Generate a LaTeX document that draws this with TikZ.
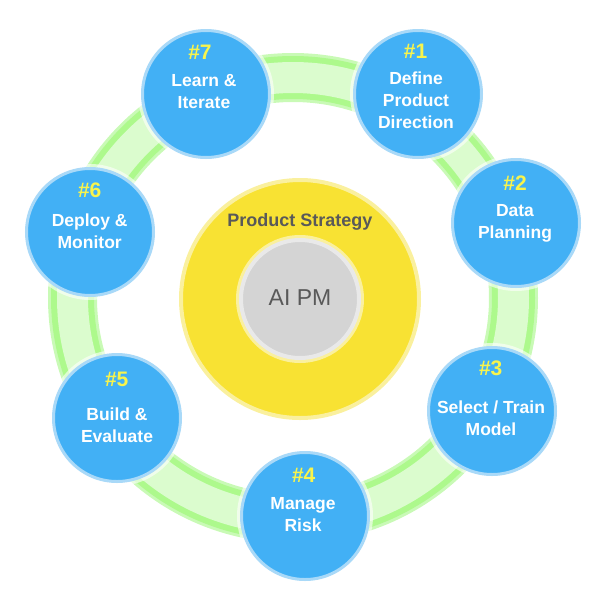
\documentclass[tikz,border=0pt]{standalone}
\usepackage{fontspec}
\setmainfont{Liberation Sans}
\usepackage{tikz}
\usetikzlibrary{positioning}
\definecolor{stepblue}{HTML}{42B0F5}
\definecolor{stepedge}{HTML}{A9D9F8}
\definecolor{numyellow}{HTML}{F8F44C}
\definecolor{ringlight}{HTML}{C9FAB6}
\definecolor{ringbright}{HTML}{ADF98C}
\definecolor{ringpale}{HTML}{DBFCCE}
\definecolor{stratyellow}{HTML}{F8E233}
\definecolor{stratedge}{HTML}{FAF09E}
\definecolor{coregray}{HTML}{D4D4D4}
\definecolor{coreedge}{HTML}{E9E9E9}
\definecolor{labelgray}{HTML}{595959}
\tikzset{
  stepcircle/.style={circle,fill=stepblue,draw=stepedge,line width=3pt,minimum size=127pt,inner sep=0pt,
    preaction={draw=white,opacity=.6,line width=9pt}},
  stepnum/.style={text=numyellow,font=\fontsize{21}{24}\selectfont\bfseries,inner sep=0pt},
  steptext/.style={text=white,font=\fontsize{17.5}{22}\selectfont\bfseries,align=center,inner sep=0pt},
}

\begin{document}
\begin{tikzpicture}[x=1pt,y=-1pt]
            \useasboundingbox (0,0) rectangle (600,600);
            \coordinate (ringc) at (293,298);
            \draw[ringlight,line width=49pt] (ringc) circle (220.5pt);
            \draw[ringbright,line width=43pt] (ringc) circle (220.5pt);
            \draw[ringpale,line width=31pt] (ringc) circle (220.5pt);
            \node[circle,fill=stratyellow,draw=stratedge,line width=4pt,minimum size=238pt] (strategy) at (300,299) {};
            \node[circle,fill=coregray,draw=coreedge,line width=4pt,minimum size=118pt,
              preaction={draw=stratedge,line width=10pt}] (core) at (300,299) {};
            \node[font=\fontsize{18}{20}\selectfont\bfseries,text=labelgray] (strattext) at (300,222) {Product Strategy};
            \node[font=\fontsize{23}{26}\selectfont,text=labelgray] (coretext) at (300,298) {AI PM};
            \node[stepcircle] (step1) at (418,94) {};
            \node[stepnum] (num1) at (415.5,51) {\#1};
            \node[steptext] (label1) at (416,100) {Define\\Product\\Direction};
            \node[stepcircle] (step2) at (516,223) {};
            \node[stepnum] (num2) at (515,183) {\#2};
            \node[steptext] (label2) at (515,223) {Data\\Planning};
            \node[stepcircle] (step3) at (492,411) {};
            \node[stepnum] (num3) at (490.7,368) {\#3};
            \node[steptext] (label3) at (491,418) {Select / Train\\Model};
            \node[stepcircle] (step4) at (305,516) {};
            \node[stepnum] (num4) at (303.7,475) {\#4};
            \node[steptext] (label4) at (303,515) {Manage\\Risk};
            \node[stepcircle] (step5) at (117,418) {};
            \node[stepnum] (num5) at (116.7,379) {\#5};
            \node[steptext] (label5) at (117,425.5) {Build \&\\Evaluate};
            \node[stepcircle] (step6) at (90,232) {};
            \node[stepnum] (num6) at (89.7,190) {\#6};
            \node[steptext] (label6) at (89.7,231) {Deploy \&\\Monitor};
            \node[stepcircle] (step7) at (206,94) {};
            \node[stepnum] (num7) at (200,52) {\#7};
            \node[steptext] (label7) at (204,91.5) {Learn \&\\Iterate};
\end{tikzpicture}
\end{document}
